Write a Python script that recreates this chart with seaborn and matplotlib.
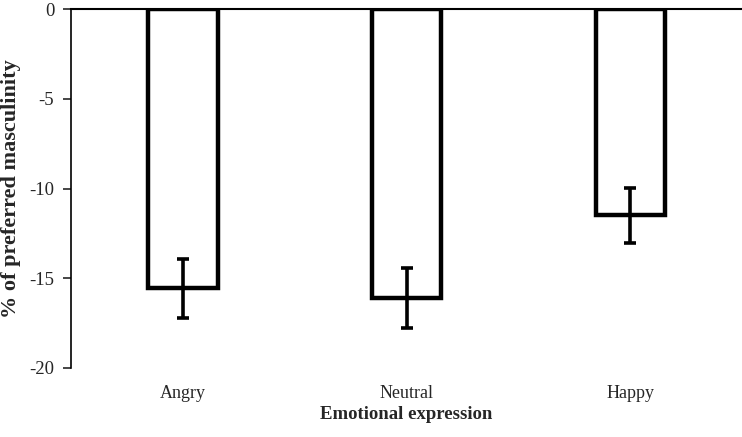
import pandas as pd
import matplotlib
matplotlib.use("Agg")
import matplotlib.pyplot as plt
import seaborn as sns

# Data
emotions = ["Angry", "Neutral", "Happy"]
means = [-15.55, -16.1, -11.5]
errors = [1.65, 1.65, 1.55]

sns.set_style("white")
plt.rcParams['font.family'] = ['Liberation Serif', 'DejaVu Serif']

df = pd.DataFrame({"emotion": emotions, "pref": means})

fig = plt.figure(figsize=(7.42, 4.37), dpi=100)
ax = fig.add_axes([0.0957, 0.158, 0.9043, 0.821])

sns.barplot(data=df, x="emotion", y="pref", ax=ax, color="white",
            edgecolor="black", linewidth=3.2, width=0.31, errorbar=None)
ax.errorbar(range(len(emotions)), means, yerr=errors, fmt="none",
            ecolor="black", elinewidth=2.6, capsize=4.5, capthick=2.6)

ax.set_xlim(-0.5, 2.5)
ax.set_ylim(-20, 0)
ax.set_yticks([0, -5, -10, -15, -20])
ax.set_yticklabels(["0", "-5", "-10", "-15", "-20"], fontsize=13.5)
ax.tick_params(axis="y", direction="out", length=6, width=1.2, left=True, pad=6)
ax.tick_params(axis="x", length=0, pad=12, labelsize=13)

for s in ["right", "bottom"]:
    ax.spines[s].set_visible(False)
ax.spines["left"].set_linewidth(1.2)
ax.spines["top"].set_linewidth(1.5)
ax.spines["left"].set_color("black")
ax.spines["top"].set_color("black")

ax.set_xlabel("Emotional expression", fontsize=13.5, fontweight="bold", labelpad=3)
ax.set_ylabel("% of preferred masculinity", fontsize=16, fontweight="bold", labelpad=6)

fig.savefig("out.png", dpi=100)
